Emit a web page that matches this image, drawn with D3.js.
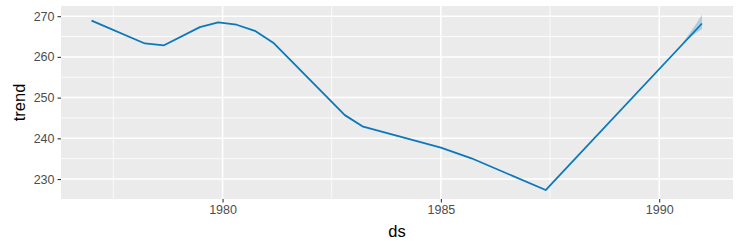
<!DOCTYPE html>
<html>
<head>
<meta charset="utf-8">
<script src="https://cdn.jsdelivr.net/npm/d3@7"></script>
<style>
  html, body { margin: 0; padding: 0; background: #ffffff; }
  svg { display: block; font-family: "Liberation Sans", Arial, sans-serif; }
</style>
</head>
<body>
<svg id="chart" width="749" height="241"></svg>
<script>
// ---- data ----
const trendYears  = [1977.0, 1978.22, 1978.66, 1979.48, 1979.90, 1980.32, 1980.74, 1981.16, 1982.80, 1983.22, 1985.0, 1985.70, 1987.40, 1990.98];
const trendValues = [268.9, 263.3, 262.85, 267.3, 268.5, 267.9, 266.4, 263.5, 245.7, 242.85, 237.7, 235.1, 227.3, 268.2];
const bandYears   = [1990.55, 1990.72, 1990.86, 1990.98];
const bandUpper   = [263.7, 266.2, 268.3, 270.4];
const bandLower   = [263.2, 264.8, 266.0, 266.8];
const xTicks      = [1980, 1985, 1990];
const xMinor      = [1977.5, 1982.5, 1987.5];
const yTicks      = [230, 240, 250, 260, 270];
const yMinor      = [235, 245, 255, 265];

// ---- layout ----
const svg = d3.select("#chart");
const panel = { left: 61, right: 733, top: 6, bottom: 199 };

const x = d3.scaleLinear().domain([1976.30, 1991.69]).range([panel.left, panel.right]);
const y = d3.scaleLinear().domain([225.1, 272.5]).range([panel.bottom, panel.top]);

// panel background
svg.append("rect")
  .attr("x", panel.left).attr("y", panel.top)
  .attr("width", panel.right - panel.left).attr("height", panel.bottom - panel.top)
  .attr("fill", "#EBEBEB");

// grid
const grid = svg.append("g");
grid.selectAll(".ym").data(yMinor).join("line")
  .attr("x1", panel.left).attr("x2", panel.right)
  .attr("y1", d => y(d)).attr("y2", d => y(d))
  .attr("stroke", "#ffffff").attr("stroke-width", 0.8);
grid.selectAll(".xm").data(xMinor).join("line")
  .attr("y1", panel.top).attr("y2", panel.bottom)
  .attr("x1", d => x(d)).attr("x2", d => x(d))
  .attr("stroke", "#ffffff").attr("stroke-width", 0.8);
grid.selectAll(".yM").data(yTicks).join("line")
  .attr("x1", panel.left).attr("x2", panel.right)
  .attr("y1", d => y(d)).attr("y2", d => y(d))
  .attr("stroke", "#ffffff").attr("stroke-width", 1.5);
grid.selectAll(".xM").data(xTicks).join("line")
  .attr("y1", panel.top).attr("y2", panel.bottom)
  .attr("x1", d => x(d)).attr("x2", d => x(d))
  .attr("stroke", "#ffffff").attr("stroke-width", 1.5);

// uncertainty band
const band = bandYears.map((d, i) => ({ t: d, lo: bandLower[i], hi: bandUpper[i] }));
svg.append("path")
  .datum(band)
  .attr("d", d3.area().x(d => x(d.t)).y0(d => y(d.lo)).y1(d => y(d.hi)))
  .attr("fill", "#0072B2").attr("fill-opacity", 0.25);

// trend line
const pts = trendYears.map((d, i) => ({ t: d, v: trendValues[i] }));
svg.append("path")
  .datum(pts)
  .attr("d", d3.line().x(d => x(d.t)).y(d => y(d.v)))
  .attr("fill", "none").attr("stroke", "#0A78BA").attr("stroke-width", 1.8)
  .attr("stroke-linejoin", "round");

// axes
const xAxis = svg.append("g")
  .attr("transform", `translate(0,${panel.bottom})`)
  .call(d3.axisBottom(x).tickValues(xTicks).tickFormat(d3.format("d")).tickSize(3.5).tickPadding(3));
const yAxis = svg.append("g")
  .attr("transform", `translate(${panel.left},0)`)
  .call(d3.axisLeft(y).tickValues(yTicks).tickFormat(d3.format("d")).tickSize(3.5).tickPadding(3));
[xAxis, yAxis].forEach(a => {
  a.select(".domain").remove();
  a.selectAll(".tick line").attr("stroke", "#333333").attr("stroke-width", 1.1);
  a.selectAll(".tick text")
    .attr("fill", "#4D4D4D")
    .style("font-family", '"Liberation Sans", Arial, sans-serif')
    .style("font-size", "12.5px");
});

// axis titles
svg.append("text")
  .attr("x", (panel.left + panel.right) / 2).attr("y", 236.5)
  .attr("text-anchor", "middle")
  .attr("fill", "#000000")
  .style("font-size", "16.5px")
  .text("ds");
svg.append("text")
  .attr("transform", `translate(25,${(panel.top + panel.bottom) / 2}) rotate(-90)`)
  .attr("text-anchor", "middle")
  .attr("fill", "#000000")
  .style("font-size", "16.5px")
  .text("trend");
</script>
</body>
</html>
